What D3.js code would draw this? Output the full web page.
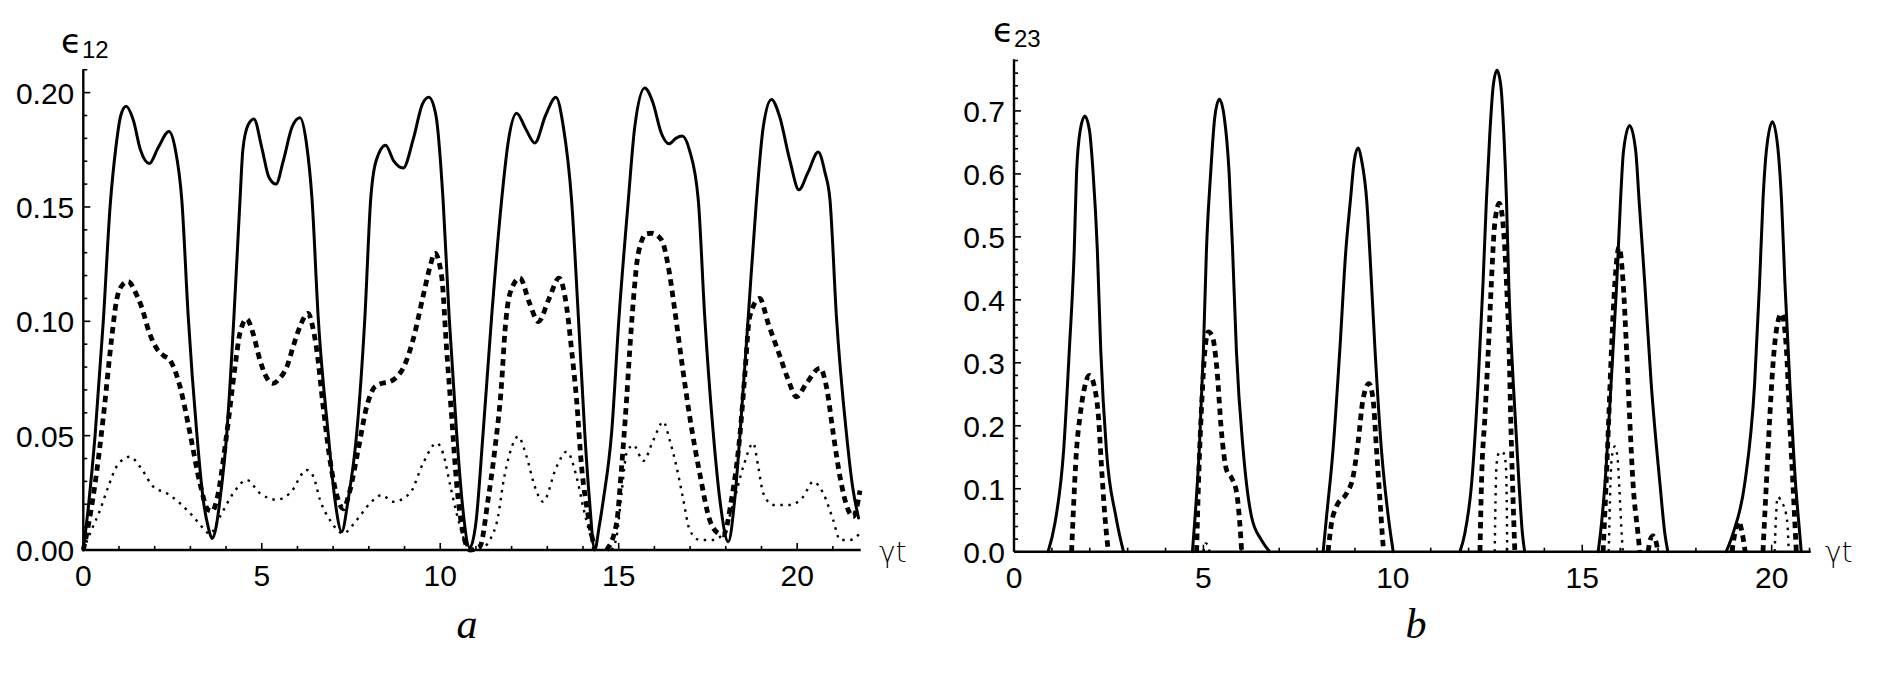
<!DOCTYPE html>
<html><head><meta charset="utf-8">
<script src="https://cdn.jsdelivr.net/npm/d3@7"></script>
<style>body{margin:0;background:#fff;} svg{display:block;background:#fff}</style>
</head><body>
<svg id="c" width="1878" height="681"></svg>
<script>
// ---------- Panel a: epsilon_12 ----------
const A_X_TICKS = [0, 5, 10, 15, 20];
const A_Y_TICKS = [0, 0.05, 0.10, 0.15, 0.20];
const A_Y_LABELS = ["0.00", "0.05", "0.10", "0.15", "0.20"];

const A_SOLID_T = [0,0.15,0.33,0.56,0.75,0.92,1.05,1.20,1.40,1.60,1.85,2.10,2.40,2.58,2.76,2.94,3.18,3.36,3.50,3.61,3.72,3.83,4.02,4.22,4.39,4.47,4.62,4.78,5.00,5.20,5.40,5.60,5.85,6.07,6.25,6.41,6.58,6.86,7.05,7.24,7.42,7.66,7.89,8.05,8.20,8.47,8.70,8.96,9.25,9.50,9.68,9.88,10.08,10.25,10.46,10.62,10.83,11.00,11.20,11.44,11.72,11.90,12.14,12.40,12.65,12.95,13.24,13.45,13.68,13.87,14.05,14.18,14.33,14.45,14.57,14.80,15.01,15.27,15.45,15.73,15.95,16.20,16.41,16.60,16.78,16.98,17.23,17.41,17.65,17.85,18.07,18.25,18.40,18.63,18.86,19.05,19.28,19.50,19.80,20.05,20.30,20.59,20.78,20.92,21.10,21.38,21.55,21.72];
const A_SOLID_V = [0,0.020,0.050,0.100,0.150,0.177,0.190,0.194,0.188,0.175,0.169,0.176,0.183,0.175,0.153,0.102,0.051,0.022,0.010,0.005,0.010,0.022,0.051,0.102,0.153,0.175,0.186,0.1885,0.176,0.163,0.160,0.170,0.185,0.189,0.178,0.153,0.102,0.051,0.022,0.008,0.022,0.051,0.102,0.153,0.170,0.177,0.170,0.167,0.180,0.195,0.198,0.190,0.153,0.102,0.051,0.020,0.001,0.012,0.051,0.102,0.153,0.178,0.191,0.184,0.178,0.190,0.198,0.185,0.153,0.102,0.051,0.022,0.000,0.010,0.022,0.051,0.102,0.153,0.185,0.202,0.196,0.182,0.1776,0.180,0.181,0.175,0.153,0.102,0.051,0.020,0.0036,0.022,0.051,0.102,0.153,0.185,0.197,0.190,0.170,0.1575,0.165,0.174,0.165,0.153,0.102,0.051,0.028,0.014];

const A_DASH_T = [0,0.095,0.33,0.56,0.79,0.93,1.10,1.26,1.45,1.63,1.85,2.06,2.25,2.43,2.58,2.71,2.99,3.27,3.50,3.62,3.74,4.02,4.25,4.39,4.58,4.75,4.95,5.15,5.32,5.50,5.70,5.90,6.07,6.30,6.42,6.54,6.72,6.91,7.14,7.28,7.47,7.70,7.94,8.17,8.40,8.59,8.80,8.96,9.24,9.52,9.70,9.85,10.04,10.18,10.32,10.46,10.64,10.83,11.11,11.34,11.53,11.72,11.81,11.95,12.23,12.50,12.75,13.05,13.33,13.54,13.68,13.82,13.96,14.15,14.33,14.66,14.94,15.08,15.22,15.31,15.41,15.55,15.78,15.92,16.20,16.39,16.57,16.76,16.99,17.27,17.55,17.79,17.93,18.16,18.40,18.53,18.67,18.95,19.19,19.52,19.75,19.98,20.26,20.64,20.82,21.01,21.20,21.43,21.57,21.76];
const A_DASH_V = [0,0.007,0.029,0.058,0.092,0.109,0.116,0.1174,0.113,0.1064,0.095,0.088,0.085,0.083,0.078,0.0714,0.051,0.029,0.0175,0.017,0.022,0.051,0.080,0.095,0.101,0.095,0.083,0.075,0.0729,0.075,0.080,0.090,0.0977,0.1035,0.098,0.0875,0.0627,0.0394,0.022,0.018,0.026,0.0437,0.0627,0.0714,0.073,0.0736,0.076,0.0795,0.092,0.111,0.123,0.1298,0.1196,0.0875,0.0583,0.029,0.0073,0,0.0015,0.022,0.044,0.073,0.095,0.112,0.1189,0.108,0.0999,0.110,0.1189,0.1064,0.0875,0.0656,0.0364,0.0146,0,0,0.0117,0.036,0.0656,0.0875,0.109,0.1298,0.1383,0.1385,0.1356,0.1239,0.105,0.083,0.0583,0.0335,0.0131,0.0073,0.0066,0.022,0.051,0.0758,0.102,0.110,0.099,0.0846,0.0744,0.067,0.0729,0.0795,0.0714,0.051,0.032,0.0175,0.0146,0.026];

const A_DOT_T = [0,0.19,0.47,0.70,0.93,1.31,1.59,1.96,2.34,2.71,3.08,3.36,3.55,3.83,4.20,4.58,4.95,5.42,5.79,6.26,6.45,6.63,6.91,7.28,7.66,8.03,8.36,8.68,9.15,9.52,9.90,10.08,10.27,10.46,10.64,10.80,11.10,11.39,11.62,11.76,11.95,12.18,12.42,12.65,12.88,13.26,13.54,13.82,14.00,14.19,14.35,14.80,14.94,15.08,15.22,15.41,15.69,15.97,16.25,16.43,16.62,16.81,16.99,17.27,17.65,17.93,18.21,18.49,18.77,18.91,19.05,19.33,19.80,20.17,20.45,20.73,21.01,21.20,21.48,21.76];
const A_DOT_V = [0,0.0073,0.0175,0.0277,0.0364,0.0408,0.0364,0.0277,0.0248,0.0204,0.0146,0.0095,0.007,0.0146,0.0248,0.0306,0.0248,0.022,0.0248,0.035,0.032,0.022,0.0131,0.0073,0.0131,0.0204,0.024,0.0211,0.0248,0.0379,0.0467,0.0423,0.029,0.016,0.0058,0,0,0.0044,0.0146,0.029,0.0423,0.0496,0.0408,0.0277,0.0211,0.0364,0.043,0.032,0.019,0.0073,0,0,0.0058,0.0248,0.0423,0.0459,0.039,0.048,0.0561,0.048,0.0364,0.022,0.0087,0.0044,0.0044,0.0073,0.0204,0.0364,0.0467,0.0364,0.0248,0.0197,0.0197,0.0233,0.0299,0.0248,0.0131,0.0044,0.0044,0.0073];

// ---------- Panel b: epsilon_23 ----------
const B_X_TICKS = [0, 5, 10, 15, 20];
const B_Y_TICKS = [0, 0.1, 0.2, 0.3, 0.4, 0.5, 0.6, 0.7];
const B_Y_LABELS = ["0.0", "0.1", "0.2", "0.3", "0.4", "0.5", "0.6", "0.7"];

const B_SOLID_T = [0,0.90,1.08,1.31,1.46,1.59,1.65,1.75,1.87,1.99,2.09,2.20,2.29,2.44,2.69,2.89,4.71,4.78,4.89,5.00,5.08,5.19,5.30,5.42,5.55,5.68,5.77,5.87,6.05,6.27,6.53,6.75,8.16,8.25,8.42,8.60,8.76,8.88,8.98,9.08,9.18,9.31,9.39,9.53,9.70,9.88,10.01,11.77,11.90,12.08,12.25,12.38,12.47,12.56,12.65,12.75,12.85,12.93,13.00,13.06,13.18,13.33,13.42,13.48,15.42,15.48,15.60,15.76,15.91,16.01,16.09,16.25,16.41,16.50,16.65,16.82,17.05,17.18,17.26,18.80,18.98,19.29,19.55,19.68,19.77,19.86,20.02,20.17,20.26,20.35,20.48,20.63,20.74,20.78,21.0];
const B_SOLID_V = [0,0,0.045,0.161,0.32,0.479,0.60,0.67,0.692,0.67,0.60,0.479,0.32,0.161,0.0556,0,0,0.0556,0.161,0.32,0.479,0.60,0.69,0.7186,0.69,0.60,0.479,0.32,0.161,0.0556,0.0186,0,0,0.0556,0.161,0.32,0.479,0.558,0.62,0.641,0.62,0.558,0.479,0.32,0.161,0.0556,0,0,0.029,0.1086,0.267,0.426,0.558,0.664,0.74,0.7646,0.74,0.664,0.558,0.426,0.267,0.1086,0.029,0,0,0.029,0.1086,0.267,0.426,0.558,0.637,0.677,0.637,0.558,0.426,0.267,0.1086,0.029,0,0,0.029,0.1086,0.267,0.426,0.558,0.637,0.683,0.637,0.558,0.426,0.267,0.1086,0.029,0,0];

const B_DASH_T = [0,1.52,1.56,1.65,1.74,1.83,1.99,2.14,2.23,2.31,2.40,2.49,4.82,4.87,4.96,5.04,5.13,5.24,5.35,5.48,5.61,5.75,5.88,5.96,6.01,8.29,8.38,8.51,8.78,8.95,9.08,9.21,9.37,9.48,9.57,9.66,9.74,9.76,12.30,12.34,12.43,12.52,12.60,12.69,12.81,12.93,13.00,13.07,13.11,13.16,13.22,15.55,15.63,15.70,15.77,15.86,15.97,16.08,16.17,16.25,16.34,16.47,16.52,16.74,16.80,16.87,16.95,17.00,18.95,19.05,19.13,19.22,19.30,19.77,19.86,19.95,20.03,20.12,20.26,20.39,20.47,20.56,20.65,21.0];
const B_DASH_V = [0,0,0.0556,0.161,0.214,0.251,0.280,0.257,0.214,0.135,0.0556,0,0,0.1086,0.241,0.32,0.349,0.341,0.294,0.188,0.13,0.1165,0.0927,0.045,0,0,0.045,0.0714,0.0927,0.119,0.172,0.241,0.267,0.241,0.161,0.082,0.013,0,0,0.1086,0.214,0.32,0.426,0.521,0.553,0.505,0.426,0.32,0.214,0.1086,0,0,0.1086,0.214,0.32,0.426,0.484,0.426,0.32,0.214,0.1086,0.029,0,0,0.02,0.025,0.015,0,0,0.035,0.048,0.03,0,0,0.1086,0.214,0.294,0.35,0.378,0.32,0.214,0.1086,0,0];

const B_DOT_T = [0,5.00,5.06,5.12,5.16,12.69,12.71,12.74,12.80,12.87,12.94,12.99,13.01,13.02,15.70,15.73,15.78,15.86,15.93,15.98,16.03,16.07,20.08,20.11,20.15,20.17,20.25,20.38,20.43,20.45,21.0];
const B_DOT_V = [0,0,0.013,0.010,0,0,0.08,0.14,0.157,0.159,0.155,0.13,0.06,0,0,0.08,0.15,0.167,0.15,0.10,0.04,0,0,0.05,0.085,0.087,0.08,0.06,0.03,0,0];

// ---------- drawing ----------
const svg = d3.select("#c");
const STYLES = {
  solid: {w: 3, dash: null},
  dash:  {w: 4.8, dash: "6.5,5"},
  dot:   {w: 2.4, dash: "2.5,5.5"}
};
const LABEL_FONT = "'Liberation Sans', Arial, sans-serif";

function pieces(T, V) {
  // split into runs, skipping stretches that lie on zero
  const out = []; let cur = [];
  for (let i = 0; i < T.length - 1; i++) {
    if (V[i] > 0 || V[i + 1] > 0) {
      if (cur.length === 0) cur.push([T[i], V[i]]);
      cur.push([T[i + 1], V[i + 1]]);
    } else if (cur.length) { out.push(cur); cur = []; }
  }
  if (cur.length) out.push(cur);
  return out;
}

function panel(cfg) {
  const g = svg.append("g");
  const x = d3.scaleLinear().domain(cfg.xDomain).range(cfg.xRange);
  const y = d3.scaleLinear().domain(cfg.yDomain).range(cfg.yRange);
  const line = d3.line().x(d => x(d[0])).y(d => y(d[1])).curve(d3.curveMonotoneX);

  cfg.series.forEach(s => {
    const st = STYLES[s.style];
    pieces(s.t, s.v).forEach(p => {
      g.append("path").attr("d", line(p)).attr("fill", "none")
        .attr("stroke", "#000").attr("stroke-width", st.w)
        .attr("stroke-dasharray", st.dash).attr("stroke-linejoin", "round")
        .attr("stroke-linecap", st.dash ? "butt" : "round");
    });
  });

  const x0 = cfg.xRange[0], y0 = cfg.yRange[0];
  g.append("line").attr("x1", x0).attr("x2", cfg.xRange[1]).attr("y1", y0).attr("y2", y0)
    .attr("stroke", "#000").attr("stroke-width", 2.4);
  g.append("line").attr("x1", x0).attr("x2", x0).attr("y1", y0).attr("y2", cfg.yRange[1])
    .attr("stroke", "#000").attr("stroke-width", 2.4);

  const xMinor = d3.range(0, cfg.xDomain[1] + 1e-9, 1);
  xMinor.forEach(v => {
    const major = cfg.xTicks.includes(v);
    g.append("line").attr("x1", x(v)).attr("x2", x(v)).attr("y1", y0).attr("y2", y0 - (major ? 7 : 4))
      .attr("stroke", "#000").attr("stroke-width", 1.6);
  });
  cfg.xTicks.forEach(v => {
    g.append("text").attr("x", x(v)).attr("y", y0 + 36).attr("text-anchor", "middle")
      .attr("font-family", LABEL_FONT).attr("font-size", 30).text(String(v));
  });
  const yMinor = d3.range(0, Math.round(cfg.yDomain[1] / cfg.yMinorStep) + 1).map(i => i * cfg.yMinorStep);
  yMinor.forEach(v => {
    const major = cfg.yTicks.some(t => Math.abs(t - v) < 1e-9);
    g.append("line").attr("x1", x0).attr("x2", x0 + (major ? 7 : 4)).attr("y1", y(v)).attr("y2", y(v))
      .attr("stroke", "#000").attr("stroke-width", 1.6);
  });
  cfg.yTicks.forEach((v, i) => {
    g.append("text").attr("x", x0 - 9).attr("y", y(v) + 11).attr("text-anchor", "end")
      .attr("font-family", LABEL_FONT).attr("font-size", 30).text(cfg.yLabels[i]);
  });

  const yt = g.append("text").attr("x", cfg.yTitlePos[0]).attr("y", cfg.yTitlePos[1])
    .attr("font-family", "'DejaVu Sans', sans-serif").attr("font-size", 34);
  yt.append("tspan").text("\u03F5");
  yt.append("tspan").attr("font-family", LABEL_FONT).attr("font-size", 24).attr("dy", 5).text(cfg.ySub);

  g.append("text").attr("x", cfg.xTitlePos[0]).attr("y", cfg.xTitlePos[1])
    .attr("font-family", "'DejaVu Sans', sans-serif").attr("font-weight", 200)
    .attr("font-size", 28).text("\u03B3t");

  g.append("text").attr("x", cfg.letterPos[0]).attr("y", cfg.letterPos[1]).attr("text-anchor", "middle")
    .attr("font-family", "'Liberation Serif', 'DejaVu Serif', serif").attr("font-style", "italic")
    .attr("font-size", 42).text(cfg.letter);
}

panel({
  xDomain: [0, 21.78], xRange: [83.3, 860.7],
  yDomain: [0, 0.2102], yRange: [550, 69.3],
  xTicks: A_X_TICKS, yTicks: A_Y_TICKS, yLabels: A_Y_LABELS, yMinorStep: 0.01,
  series: [
    {t: A_DOT_T, v: A_DOT_V, style: "dot"},
    {t: A_DASH_T, v: A_DASH_V, style: "dash"},
    {t: A_SOLID_T, v: A_SOLID_V, style: "solid"}
  ],
  ySub: "12", yTitlePos: [61, 53], xTitlePos: [879, 562], letter: "a", letterPos: [467, 638]
});

panel({
  xDomain: [0, 21.03], xRange: [1014, 1810.7],
  yDomain: [0, 0.782], yRange: [551.7, 59.3],
  xTicks: B_X_TICKS, yTicks: B_Y_TICKS, yLabels: B_Y_LABELS, yMinorStep: 0.02,
  series: [
    {t: B_DOT_T, v: B_DOT_V, style: "dot"},
    {t: B_DASH_T, v: B_DASH_V, style: "dash"},
    {t: B_SOLID_T, v: B_SOLID_V, style: "solid"}
  ],
  ySub: "23", yTitlePos: [993, 42], xTitlePos: [1825, 562], letter: "b", letterPos: [1416, 638]
});
</script>
</body></html>
